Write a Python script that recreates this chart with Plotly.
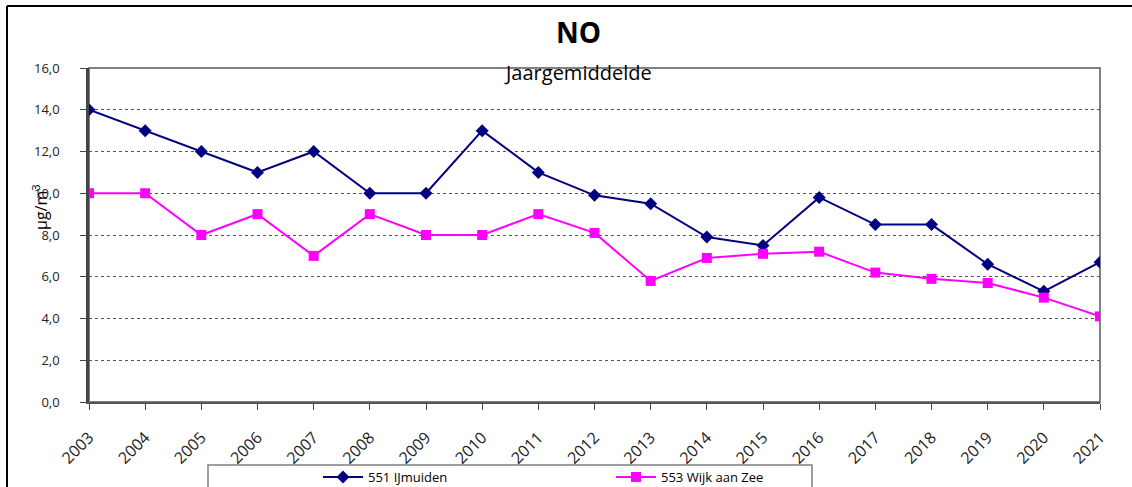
import plotly.graph_objects as go

years = list(range(2003, 2022))
ijmuiden = [14.0, 13.0, 12.0, 11.0, 12.0, 10.0, 10.0, 13.0, 11.0, 9.9, 9.5, 7.9, 7.5, 9.8, 8.5, 8.5, 6.6, 5.3, 6.7]
wijk = [10.0, 10.0, 8.0, 9.0, 7.0, 9.0, 8.0, 8.0, 9.0, 8.1, 5.8, 6.9, 7.1, 7.2, 6.2, 5.9, 5.7, 5.0, 4.1]
y_ticks = [0, 2, 4, 6, 8, 10, 12, 14, 16]
y_ticktext = ["0,0", "2,0", "4,0", "6,0", "8,0", "10,0", "12,0", "14,0", "16,0"]

W, H = 1132, 487
L, R, T, B = 89, 1100, 68, 402
pw, ph = R - L, B - T

def px(x):
    return (x - L) / pw

def py(y):
    return (B - y) / ph

FONT = "Open Sans"

fig = go.Figure()
fig.add_trace(go.Scatter(
    x=years, y=ijmuiden, name="551 IJmuiden", mode="lines+markers",
    line=dict(color="#000080", width=2),
    marker=dict(symbol="diamond", size=10, color="#000080"),
))
fig.add_trace(go.Scatter(
    x=years, y=wijk, name="553 Wijk aan Zee", mode="lines+markers",
    line=dict(color="#FF00FF", width=2),
    marker=dict(symbol="square", size=10, color="#FF00FF"),
))

shapes = [
    dict(type="rect", xref="paper", yref="paper", x0=0, x1=1, y0=0, y1=1,
         line=dict(color="#808080", width=2), layer="below"),
    dict(type="line", xref="paper", yref="paper", x0=px(7), x1=px(7), y0=py(6), y1=py(600),
         line=dict(color="black", width=2)),
    dict(type="line", xref="paper", yref="paper", x0=px(7), x1=px(1200), y0=py(6), y1=py(6),
         line=dict(color="black", width=2)),
    dict(type="rect", xref="paper", yref="paper", x0=px(208), x1=px(812), y0=py(465), y1=py(600),
         line=dict(color="#808080", width=1.5), fillcolor="white", layer="below"),
]

annotations = [
    dict(text="<b>NO</b>", x=px(578), y=py(32), xref="paper", yref="paper",
         xanchor="center", yanchor="middle",
         showarrow=False, font=dict(family=FONT, size=28, color="black")),
    dict(text="Jaargemiddelde", x=px(578), y=py(72), xref="paper", yref="paper",
         xanchor="center", yanchor="middle",
         showarrow=False, font=dict(family=FONT, size=20, color="black")),
    dict(text="µg/m<sup>3</sup>", x=px(40), y=py(207), xref="paper", yref="paper",
         xanchor="center", yanchor="middle",
         showarrow=False, textangle=-90, font=dict(family=FONT, size=16, color="black")),
]

fig.update_layout(
    width=W, height=H, autosize=False,
    margin=dict(l=L, r=W - R, t=T, b=H - B, pad=0, autoexpand=False),
    paper_bgcolor="white", plot_bgcolor="white",
    separators=",.",
    font=dict(family=FONT, size=13, color="#222"),
    shapes=shapes, annotations=annotations,
    showlegend=True,
    legend=dict(orientation="h", x=px(318), y=py(477), xanchor="left", yanchor="middle",
                bgcolor="rgba(0,0,0,0)", borderwidth=0,
                font=dict(family=FONT, size=13, color="black"),
                entrywidth=238, entrywidthmode="pixels", itemwidth=40),
    xaxis=dict(range=[2003, 2021], tickmode="array", tickvals=years,
               ticktext=[str(y) for y in years], tickangle=-45,
               ticks="outside", ticklen=6, tickcolor="#444", tickwidth=1,
               ticklabelstandoff=12,
               showline=True, linecolor="#555", linewidth=2,
               showgrid=False, zeroline=False, automargin=False,
               tickfont=dict(family=FONT, size=16, color="#222")),
    yaxis=dict(range=[0, 16], tickmode="array", tickvals=y_ticks, ticktext=y_ticktext,
               ticks="outside", ticklen=6, tickcolor="#444", tickwidth=1,
               ticklabelstandoff=18, automargin=False,
               showline=True, linecolor="#444", linewidth=2.5,
               showgrid=True, gridcolor="#555", griddash="dot", gridwidth=1,
               zeroline=False,
               tickfont=dict(family=FONT, size=13, color="#222")),
)

fig.write_html("out.html", config={"displayModeBar": False},
               post_script="document.body.style.margin='0';")
